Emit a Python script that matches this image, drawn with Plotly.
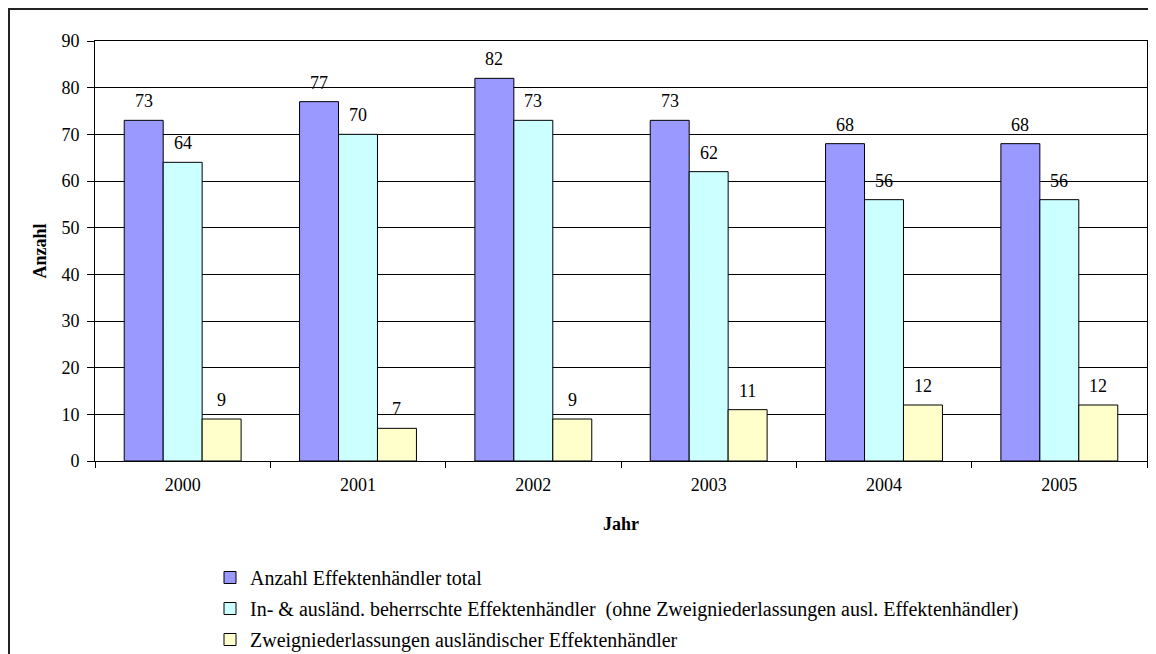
import plotly.graph_objects as go

years = ["2000", "2001", "2002", "2003", "2004", "2005"]
total = [73, 77, 82, 73, 68, 68]
beherrscht = [64, 70, 73, 62, 56, 56]
zweig = [9, 7, 9, 11, 12, 12]

names = [
    "Anzahl Effektenhändler total",
    "In- & ausländ. beherrschte Effektenhändler  (ohne Zweigniederlassungen ausl. Effektenhändler)",
    "Zweigniederlassungen ausländischer Effektenhändler",
]
colors = ["#9999FF", "#CCFFFF", "#FFFFCC"]
series = [total, beherrscht, zweig]

W, H = 1156, 654
OFF = 8  # page body margin
ML, MR, MT, MB = 95 - OFF, 17, 41 - OFF, 201
FONT = "Liberation Serif, Times New Roman, serif"
BARGAP = 1 / 3

fig = go.Figure()
for i, (nm, col, vals) in enumerate(zip(names, colors, series)):
    fig.add_trace(go.Bar(
        x=years, y=vals, name=nm, legendgroup=f"g{i}",
        marker=dict(color=col, line=dict(color="black", width=1)),
    ))

plot_w = W - ML - MR
plot_h = H - MT - MB
cat_w = plot_w / len(years)
bar_w = cat_w * (1 - BARGAP) / len(series)
annotations = []
for i, vals in enumerate(series):
    off = (i - (len(series) - 1) / 2) * bar_w
    for j, v in enumerate(vals):
        annotations.append(dict(
            x=j, y=v, xref="x", yref="y", text=str(v), showarrow=False,
            xshift=off, yshift=7, yanchor="bottom",
            font=dict(family=FONT, size=18, color="black"),
        ))

# convert screen pixel positions (as seen in the page) into paper coords
def px_to_paper_x(px):
    return (px - OFF - ML) / plot_w
def px_to_paper_y(py):
    return (H - MB - (py - OFF)) / plot_h

fig.update_layout(
    width=W, height=H,
    margin=dict(l=ML, r=MR, t=MT, b=MB, autoexpand=False),
    paper_bgcolor="white", plot_bgcolor="white",
    barmode="group", bargap=BARGAP, bargroupgap=0,
    font=dict(family=FONT, size=18, color="black"),
    annotations=annotations,
    showlegend=True,
    legend=dict(
        orientation="v", x=px_to_paper_x(210), y=px_to_paper_y(558),
        xanchor="left", yanchor="top", tracegroupgap=2,
        font=dict(family=FONT, size=20, color="black"),
        bgcolor="rgba(0,0,0,0)",
    ),
    xaxis=dict(
        type="category", range=[-0.5, len(years) - 0.5],
        showline=True, linecolor="black", linewidth=1, mirror=True,
        ticks="outside", tickson="boundaries", ticklen=6, tickcolor="black",
        ticklabelstandoff=7,
        tickangle=0, showgrid=False, automargin=False,
        title=dict(text="<b>Jahr</b>", standoff=23, font=dict(family=FONT, size=18)),
    ),
    yaxis=dict(
        range=[0, 90], dtick=10, showline=True, linecolor="black", linewidth=1, mirror=True,
        ticks="outside", ticklen=7, tickcolor="black", ticklabelstandoff=4,
        showgrid=True, gridcolor="black", gridwidth=1, zeroline=False, automargin=False,
        title=dict(text="<b>Anzahl</b>", standoff=10, font=dict(family=FONT, size=18)),
    ),
    shapes=[dict(
        type="rect", xref="paper", yref="paper",
        x0=px_to_paper_x(9), x1=px_to_paper_x(1200),
        y0=px_to_paper_y(700), y1=px_to_paper_y(9),
        line=dict(color="#222222", width=2), fillcolor="rgba(0,0,0,0)", layer="below",
    )],
)

fig.write_html("out.html")
